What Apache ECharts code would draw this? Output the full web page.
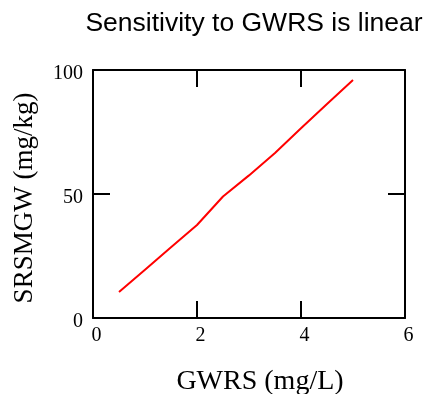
<!DOCTYPE html>
<html>
<head>
<meta charset="utf-8">
<script src="https://cdn.jsdelivr.net/npm/echarts@6/dist/echarts.min.js"></script>
<style>
  html, body { margin: 0; padding: 0; background: #fff; }
  #chart { width: 426px; height: 394px; }
</style>
</head>
<body>
<div id="chart"></div>
<script>
// GWRS (mg/L) vs SRSMGW (mg/kg)
const gwrs = [0.5, 1, 1.5, 2, 2.5, 3, 3.5, 4, 4.5, 5];
const srsmgw = [10.5, 19.5, 28.5, 37.5, 49, 57.5, 66.5, 76.5, 86.3, 96];
const xTicks = [0, 2, 4, 6];
const yTicks = [0, 50, 100];

const chart = echarts.init(document.getElementById('chart'));

const serif = '"Liberation Serif", "Times New Roman", serif';
const tickStyle = { show: true, inside: true, length: 17, lineStyle: { color: '#000', width: 2 } };
const lineStyle = { show: true, onZero: false, lineStyle: { color: '#000', width: 2 } };

const option = {
    animation: false,
    title: {
        text: 'Sensitivity to GWRS is linear',
        left: 249,
        textAlign: 'center',
        top: 5,
        textStyle: { fontFamily: '"Liberation Sans", Arial, sans-serif', fontSize: 26.5, fontWeight: 'normal', color: '#000' }
    },
    grid: { left: 93, right: 21, top: 70, bottom: 76, outerBoundsMode: 'none', containLabel: false },
    xAxis: [{
        type: 'value', min: xTicks[0], max: xTicks[xTicks.length - 1], interval: 2,
        name: 'GWRS (mg/L)', nameLocation: 'middle', nameGap: 50,
        nameTextStyle: { fontFamily: serif, fontSize: 28, color: '#000', padding: [0, 0, 0, 22] },
        axisLine: lineStyle, axisTick: tickStyle, splitLine: { show: false },
        axisLabel: { fontFamily: serif, fontSize: 20, color: '#000', margin: 8, padding: [0, 0, 0, 7],
            formatter: v => xTicks.includes(v) ? String(v) : '' }
    }, {
        type: 'value', position: 'top', min: 0, max: 6, interval: 2,
        axisLine: lineStyle, axisTick: tickStyle, axisLabel: { show: false }, splitLine: { show: false }
    }],
    yAxis: [{
        type: 'value', min: yTicks[0], max: yTicks[yTicks.length - 1], interval: 50,
        name: 'SRSMGW (mg/kg)', nameLocation: 'middle', nameGap: 55,
        nameTextStyle: { fontFamily: serif, fontSize: 27, color: '#000', padding: [0, 8, 0, 0] },
        axisLine: lineStyle, axisTick: tickStyle, splitLine: { show: false },
        axisLabel: { fontFamily: serif, fontSize: 20, color: '#000', margin: 10,
            verticalAlign: 'top', lineHeight: 8,
            formatter: v => yTicks.includes(v) ? String(v) : '' }
    }, {
        type: 'value', position: 'right', min: 0, max: 100, interval: 50,
        axisLine: lineStyle, axisTick: tickStyle, axisLabel: { show: false }, splitLine: { show: false }
    }],
    series: [{
        type: 'line',
        data: gwrs.map((x, i) => [x, srsmgw[i]]),
        showSymbol: false,
        lineStyle: { color: '#ff0000', width: 2 },
        itemStyle: { color: '#ff0000' }
    }]
};

chart.setOption(option);
</script>
</body>
</html>
